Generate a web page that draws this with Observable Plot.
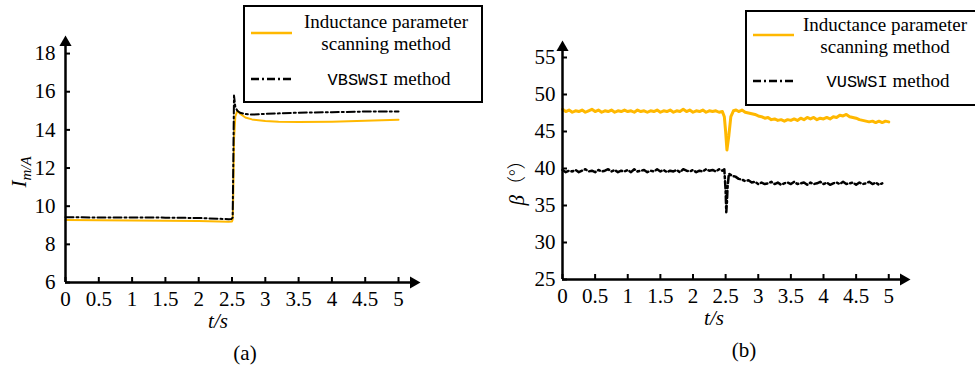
<!DOCTYPE html>
<html><head><meta charset="utf-8">
<script src="https://cdn.jsdelivr.net/npm/d3@7"></script>
<script src="https://cdn.jsdelivr.net/npm/@observablehq/plot@0.6"></script>
<style>
body{margin:0;background:#fff;}
#fig{position:relative;width:975px;height:367px;overflow:hidden;font-family:"Liberation Serif","Times New Roman",serif;color:#000;background:#fff;}
.panel{position:absolute;top:0;}
.panel text{font-family:"Liberation Serif","Times New Roman",serif;}
.legend{position:absolute;border:2px solid #000;box-sizing:border-box;background:#fff;z-index:2;}
.legend .t{position:absolute;width:220px;text-align:center;font-size:19px;line-height:22px;white-space:nowrap;font-family:"Liberation Serif","Times New Roman",serif;}
.legend svg{position:absolute;overflow:visible;}
.mono{font-family:"Liberation Mono","DejaVu Sans Mono",monospace;font-size:17px;}
.lab{position:absolute;transform:translate(-50%,-50%);font-size:21px;white-space:nowrap;z-index:3;font-family:"Liberation Serif","Times New Roman",serif;}
.rot{transform:translate(-50%,-50%) rotate(-90deg);}
</style></head>
<body>
<div id="fig"></div>
<script>
// ---------- data: panel (a) ----------
const tickXA = [0,0.5,1,1.5,2,2.5,3,3.5,4,4.5,5];
const tickYA = [6,8,10,12,14,16,18];
const tYellowA = [0,0.5,1,1.5,2,2.3,2.45,2.5,2.51,2.52,2.53,2.55,2.58,2.62,2.7,2.8,3,3.2,3.5,4,4.5,5];
const yellowA  = [9.27,9.26,9.25,9.24,9.22,9.2,9.19,9.2,9.3,10.8,13.5,14.7,15.0,14.85,14.65,14.55,14.46,14.42,14.41,14.43,14.48,14.53];
const tBlackA = [0,0.5,1,1.5,2,2.3,2.45,2.49,2.51,2.52,2.53,2.55,2.58,2.62,2.7,2.8,3,3.5,4,4.5,5];
const blackA  = [9.42,9.41,9.41,9.4,9.38,9.34,9.32,9.33,9.4,12.5,15.8,15.2,15.0,14.9,14.83,14.8,14.84,14.9,14.93,14.96,14.96];

// ---------- data: panel (b) ----------
const tickXB = [0,0.5,1,1.5,2,2.5,3,3.5,4,4.5,5];
const tickYB = [25,30,35,40,45,50,55];
const tYellowB = [0,0.05,0.1,0.15,0.2,0.25,0.3,0.35,0.4,0.45,0.5,0.55,0.6,0.65,0.7,0.75,0.8,0.85,0.9,0.95,
  1,1.05,1.1,1.15,1.2,1.25,1.3,1.35,1.4,1.45,1.5,1.55,1.6,1.65,1.7,1.75,1.8,1.85,1.9,1.95,
  2,2.05,2.1,2.15,2.2,2.25,2.3,2.35,2.4,2.45,2.48,2.5,2.52,2.55,2.58,2.62,2.66,2.7,2.75,2.8,2.85,2.9,2.95,
  3,3.05,3.1,3.15,3.2,3.25,3.3,3.35,3.4,3.45,3.5,3.55,3.6,3.65,3.7,3.75,3.8,3.85,3.9,3.95,
  4,4.05,4.1,4.15,4.2,4.25,4.3,4.35,4.4,4.45,4.5,4.55,4.6,4.65,4.7,4.75,4.8,4.85,4.9,4.95,5];
const yellowB = [48.0,47.7,47.9,47.6,47.8,47.7,47.9,47.6,47.8,48.0,47.7,47.9,47.6,47.8,47.7,47.9,47.6,47.8,47.7,47.9,
  47.7,47.8,47.6,47.9,47.7,47.8,47.6,47.8,47.7,47.9,47.6,47.8,47.7,47.9,47.6,47.8,47.7,48.0,47.7,47.9,
  47.6,47.8,47.7,47.9,47.6,47.8,47.7,47.8,47.6,47.7,47.0,45.0,42.5,44.5,47.0,47.8,47.9,47.7,47.9,47.6,47.5,47.4,47.3,
  47.1,47.0,46.8,46.9,46.6,46.7,46.5,46.6,46.4,46.6,46.5,46.7,46.5,46.8,46.6,46.9,46.7,46.9,46.6,46.8,
  46.7,46.9,46.7,47.0,46.9,47.2,47.1,47.3,47.0,46.9,46.8,46.6,46.5,46.4,46.3,46.4,46.2,46.4,46.2,46.4,46.3];
const tBlackB = [0,0.05,0.1,0.15,0.2,0.25,0.3,0.35,0.4,0.45,0.5,0.55,0.6,0.65,0.7,0.75,0.8,0.85,0.9,0.95,
  1,1.05,1.1,1.15,1.2,1.25,1.3,1.35,1.4,1.45,1.5,1.55,1.6,1.65,1.7,1.75,1.8,1.85,1.9,1.95,
  2,2.05,2.1,2.15,2.2,2.25,2.3,2.35,2.4,2.45,2.48,2.5,2.51,2.52,2.53,2.55,2.6,2.65,2.7,2.75,2.8,2.85,2.9,2.95,
  3,3.05,3.1,3.15,3.2,3.25,3.3,3.35,3.4,3.45,3.5,3.55,3.6,3.65,3.7,3.75,3.8,3.85,3.9,3.95,
  4,4.05,4.1,4.15,4.2,4.25,4.3,4.35,4.4,4.45,4.5,4.55,4.6,4.65,4.7,4.75,4.8,4.85,4.9];
const blackB = [39.8,39.5,39.7,39.6,39.8,39.5,39.7,39.9,39.6,39.7,39.5,39.8,39.6,39.7,39.9,39.6,39.8,39.5,39.7,39.6,
  39.8,39.5,39.9,39.6,39.7,39.8,39.5,39.7,39.6,39.9,39.6,39.8,39.5,39.7,39.6,39.8,39.5,39.9,39.7,39.6,
  39.8,39.5,39.7,39.6,39.9,39.7,39.8,39.6,39.9,39.7,39.9,37.0,34.1,35.5,37.5,39.3,39.0,38.9,38.6,38.5,38.3,38.4,38.1,38.2,
  37.9,38.1,37.9,38.0,38.2,37.9,38.1,37.8,38.0,38.1,37.9,38.2,37.9,38.0,38.1,37.8,38.1,37.9,38.0,38.2,
  37.9,38.1,37.8,38.0,38.1,37.9,38.2,37.9,38.0,38.1,37.8,38.1,37.9,38.0,38.2,37.9,38.1,37.8,38.0];

const YELLOW = "#FFB800";
const SERIF = "Liberation Serif";
const fig = document.getElementById("fig");

function zip(ts, vs){ return ts.map((t,i)=>({t, v: vs[i]})); }

function panel({left, width, height, ml, mr, mt, mb, xDomain, yDomain, xTicks, yTicks, yPad,
                yellow, black, yellowW, blackW, dash}) {
  const svg = Plot.plot({
    width, height, marginLeft: ml, marginRight: mr, marginTop: mt, marginBottom: mb,
    style: {fontFamily: SERIF, fontSize: "21px", background: "transparent", overflow: "visible"},
    x: {domain: xDomain, label: null},
    y: {domain: yDomain, label: null},
    marks: [
      Plot.axisX({ticks: xTicks, tickSize: -5, tickPadding: 14, strokeWidth: 2, tickFormat: d => String(d), fontSize: 21, fontFamily: SERIF, label: null}),
      Plot.axisY({ticks: yTicks, tickSize: -5, tickPadding: yPad, strokeWidth: 2, tickFormat: d => String(d), fontSize: 21, fontFamily: SERIF, label: null}),
      Plot.line(yellow, {x: "t", y: "v", stroke: YELLOW, strokeWidth: yellowW}),
      Plot.line(black, {x: "t", y: "v", stroke: "#000", strokeWidth: blackW, strokeDasharray: dash}),
      Plot.ruleX([xDomain[0]], {stroke: "#000", strokeWidth: 2.5}),
      Plot.ruleY([yDomain[0]], {stroke: "#000", strokeWidth: 2.5}),
      Plot.dot([0], {x: () => xDomain[0], frameAnchor: "top", symbol: "triangle", r: 4.5, fill: "#000", stroke: null}),
      Plot.dot([0], {y: () => yDomain[0], frameAnchor: "right", symbol: "triangle", r: 4.5, fill: "#000", stroke: null, rotate: 90})
    ]
  });
  svg.classList.add("panel");
  svg.style.left = left + "px";
  fig.appendChild(svg);
}

panel({left: 0, width: 487, height: 330, ml: 65, mr: 74, mt: 42, mb: 48,
  xDomain: [0, 5.225], yDomain: [6, 18.58], xTicks: tickXA, yTicks: tickYA, yPad: 15,
  yellow: zip(tYellowA, yellowA), black: zip(tBlackA, blackA), yellowW: 2, blackW: 2, dash: "8,3,2,3"});

panel({left: 487, width: 488, height: 330, ml: 75, mr: 72, mt: 47, mb: 51,
  xDomain: [0, 5.226], yDomain: [25, 56.35], xTicks: tickXB, yTicks: tickYB, yPad: 12,
  yellow: zip(tYellowB, yellowB), black: zip(tBlackB, blackB), yellowW: 3, blackW: 2.5, dash: "7,3,2,3"});

function add(html){ fig.insertAdjacentHTML("beforeend", html); }

// legends
function legend(left, top, w, h, cx, ys, sampleX, sampleY, name) {
  const half = 110;
  add(`<div class="legend" style="left:${left}px;top:${top}px;width:${w}px;height:${h}px">
    <svg style="left:${sampleX}px;top:${sampleY[0]-5}px" width="41" height="10"><line x1="0" x2="41" y1="5" y2="5" stroke="${YELLOW}" stroke-width="2.5"/></svg>
    <div class="t" style="left:${cx-half}px;top:${ys[0]-11}px">Inductance parameter</div>
    <div class="t" style="left:${cx-half}px;top:${ys[1]-11}px">scanning method</div>
    <svg style="left:${sampleX}px;top:${sampleY[1]-5}px" width="41" height="10"><line x1="0" x2="41" y1="5" y2="5" stroke="#000" stroke-width="2.5" stroke-dasharray="8,3,2,3"/></svg>
    <div class="t" style="left:${cx-half+3}px;top:${ys[2]-11}px"><span class="mono">${name}</span> method</div>
  </div>`);
}
legend(243, 5, 240, 98, 141, [15, 37, 72], 6, [26, 72], "VBSWSI");
legend(745, 10, 240, 96, 138, [13, 35, 69], 6, [23, 69], "VUSWSI");

// axis titles & captions
add(`<div class="lab rot" style="left:21px;top:172px"><i>I</i><sub style="font-size:15px;font-style:italic">m/A</sub></div>`);
add(`<div class="lab rot" style="left:516px;top:178px"><i>β</i><span style="font-family:'Noto Sans CJK SC';font-weight:300;font-size:19px">（°）</span></div>`);
add(`<div class="lab" style="left:218px;top:321px"><i>t/s</i></div>`);
add(`<div class="lab" style="left:714px;top:318px"><i>t/s</i></div>`);
add(`<div class="lab" style="left:245px;top:353px">(a)</div>`);
add(`<div class="lab" style="left:744px;top:350px">(b)</div>`);
</script>
</body></html>
